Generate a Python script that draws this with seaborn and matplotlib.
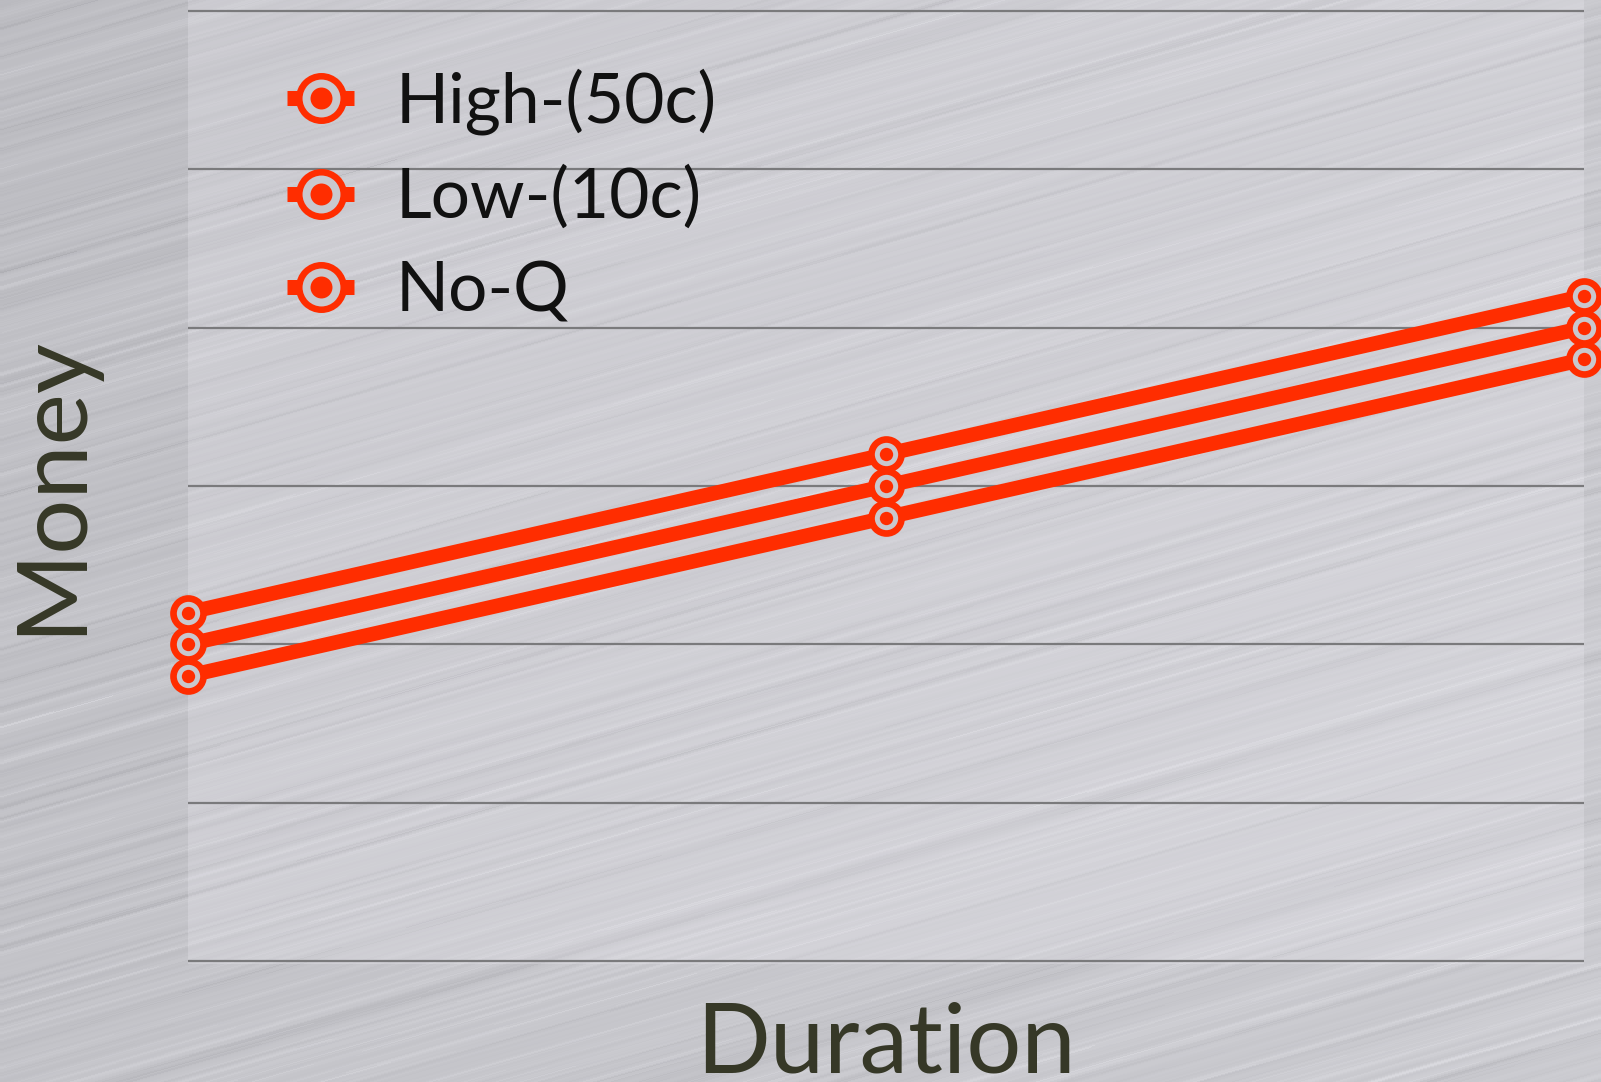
import numpy as np
import pandas as pd
import matplotlib
matplotlib.use("Agg")
import matplotlib.pyplot as plt
from matplotlib.lines import Line2D
import seaborn as sns

# ---- data -------------------------------------------------------------
durations = [0, 1, 2]
series_names = ["High-(50c)", "Low-(10c)", "No-Q"]
high_money = [2.2, 3.2, 4.2]
low_money = [2.0, 3.0, 4.0]
noq_money = [1.8, 2.8, 3.8]
grid_levels = [0, 1, 2, 3, 4, 5, 6]

df = pd.DataFrame({
    "Duration": durations * 3,
    "Money": high_money + low_money + noq_money,
    "Series": [s for s in series_names for _ in durations],
})

# ---- style ------------------------------------------------------------
RED = "#ff2d00"
GAP = "#c9c8cd"
GRID = "#7a7a7c"
LABEL = "#363827"

sns.set_style("white")
plt.rcParams["font.family"] = ["Lato", "DejaVu Sans"]

W, H = 1601, 1082
fig = plt.figure(figsize=(W / 100, H / 100), dpi=100)

# brushed-metal backdrop
rng = np.random.default_rng(11)
yy, xx = np.mgrid[0:H, 0:W]
slope = np.tan(np.radians(16))
idx = (yy + xx * slope).astype(int)
n_idx = idx.max() + 1
fine = rng.normal(size=n_idx)
wide = np.convolve(rng.normal(size=n_idx), np.hanning(9) / np.hanning(9).sum(), mode="same")
fine = 0.5 * np.convolve(fine, [0.25, 0.5, 0.25], mode="same") + 1.6 * wide
seg_len = 160
offs = rng.integers(0, seg_len, size=n_idx)
seg = ((xx + offs[idx]) // seg_len).astype(int)
seg_amp = rng.random((n_idx, seg.max() + 1))
streak = fine[idx] * (0.3 + seg_amp[idx, seg])
shade = 0.745 + 0.035 * (xx / W) + 0.02 * (yy / H) + 0.022 * streak
shade = np.clip(shade, 0, 1)
bg = np.dstack([shade, shade, np.clip(shade + 0.02, 0, 1)])

bg_ax = fig.add_axes([0, 0, 1, 1], zorder=0)
bg_ax.imshow(bg, aspect="auto", interpolation="bilinear")
bg_ax.set_axis_off()

# ---- main axes --------------------------------------------------------
ax_left, ax_right = 188, 1584
ax_top, ax_bot = 0, 964
ax = fig.add_axes([ax_left / W, (H - ax_bot) / H, (ax_right - ax_left) / W,
                   (ax_bot - ax_top) / H], zorder=1)
ax.set_facecolor((0.97, 0.96, 0.99, 0.22))

MS, MEW, DOT, LW = 21.6, 4.8, 9.6, 10.5

sns.lineplot(data=df, x="Duration", y="Money", hue="Series",
             hue_order=series_names, palette=[RED] * 3, sort=False,
             marker="o", markersize=MS, markeredgewidth=MEW,
             markeredgecolor=RED, markerfacecolor=GAP, linewidth=LW,
             legend=False, ax=ax, clip_on=False, zorder=3)
for ln in ax.lines:
    ln.set_markerfacecolor(GAP)
    ln.set_markeredgecolor(RED)
    ln.set_solid_capstyle("butt")

sns.scatterplot(data=df, x="Duration", y="Money", color=RED, s=DOT ** 2,
                linewidth=0, ax=ax, clip_on=False, zorder=4, legend=False)

ax.set_xlim(0, 2)
ax.set_ylim(-0.02, 6.07)
ax.set_yticks(grid_levels)
ax.set_xticks([])
ax.set_yticklabels([])
ax.tick_params(length=0)
ax.yaxis.grid(True, color=GRID, linewidth=1.6)
ax.set_axisbelow(True)
for sp in ax.spines.values():
    sp.set_visible(False)

ax.set_xlabel("Duration", fontsize=70, color=LABEL)
ax.xaxis.label.set_va("baseline")
ax.xaxis.set_label_coords(0.5, -0.113)
ax.set_ylabel("Money", fontsize=70, color=LABEL)
ax.yaxis.label.set_va("center")
ax.yaxis.set_label_coords(-0.0975, 0.497)

# ---- legend -----------------------------------------------------------
handles = []
for _ in series_names:
    ring = Line2D([], [], color=RED, linewidth=10.8, solid_capstyle="butt",
                  marker="o", markersize=32, markeredgewidth=4.7,
                  markeredgecolor=RED, markerfacecolor=GAP)
    dot = Line2D([], [], linestyle="none", marker="o", markersize=15.8,
                 markeredgewidth=0, markerfacecolor=RED)
    handles.append((ring, dot))

leg = ax.legend(handles, series_names, loc="upper left",
                bbox_to_anchor=(287 / W, 1 - 68 / H),
                bbox_transform=fig.transFigure, frameon=False,
                fontsize=50, handlelength=0.97, handletextpad=0.6,
                labelspacing=0.44, borderpad=0, borderaxespad=0)
for t in leg.get_texts():
    t.set_color("#111111")

fig.savefig("out.png", dpi=100)
